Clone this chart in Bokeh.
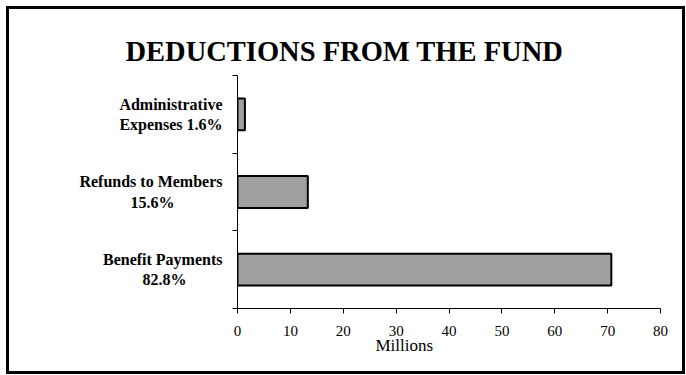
import numpy as np
from bokeh.plotting import figure
from bokeh.models import Range1d, FixedTicker, Title
from bokeh.layouts import column
from bokeh.embed import file_html
from bokeh.resources import INLINE

# ---- data ----
categories = ["Benefit Payments\n82.8%", "Refunds to Members\n15.6%", "Administrative\nExpenses 1.6%"]
values = [70.7, 13.3, 1.4]
x_ticks = [0, 10, 20, 30, 40, 50, 60, 70, 80]
title_text = "DEDUCTIONS FROM THE FUND"
x_label = "Millions"

# ---- style ----
FONT = "Liberation Serif"
# trailing no-break spaces that visually centre the shorter second line under the first
second_line_pad = [9, 12, 0]

ypos = np.arange(len(categories)) + 0.5
bounds = list(range(len(categories) + 1))


def centred(label, pad):
    first, second = label.split("\n")
    return first + "\n" + second + "\u00a0" * pad


p = figure(width=673, height=362, output_backend="svg", toolbar_location=None,
           x_range=Range1d(x_ticks[0], x_ticks[-1]), y_range=Range1d(0, len(categories)),
           min_border_left=228, min_border_right=22, min_border_top=66, min_border_bottom=63)

p.hbar(y=ypos, left=0, right=values, height=0.41,
       fill_color="#a0a0a0", line_color="black", line_width=2)

p.xgrid.visible = False
p.ygrid.visible = False
p.outline_line_color = None
p.background_fill_color = "white"
p.border_fill_color = "white"

# y axis
ya = p.yaxis[0]
ya.ticker = FixedTicker(ticks=list(ypos), minor_ticks=bounds)
ya.major_label_overrides = {float(y): centred(c, n) for y, c, n in zip(ypos, categories, second_line_pad)}
ya.major_tick_out = 0
ya.major_tick_in = 0
ya.minor_tick_out = 5
ya.minor_tick_in = 0
ya.minor_tick_line_color = "black"
ya.axis_line_color = "black"
ya.major_label_standoff = 10
ya.major_label_text_font = FONT
ya.major_label_text_font_style = "bold"
ya.major_label_text_font_size = "16px"
ya.major_label_text_color = "black"

# x axis
xa = p.xaxis[0]
xa.ticker = FixedTicker(ticks=x_ticks)
xa.major_tick_out = 5
xa.major_tick_in = 0
xa.minor_tick_out = 0
xa.minor_tick_in = 0
xa.major_tick_line_color = "black"
xa.axis_line_color = "black"
xa.major_label_standoff = 12
xa.major_label_text_font = FONT
xa.major_label_text_font_size = "15px"
xa.major_label_text_color = "black"

# titles
p.title.text = title_text
p.title.align = "left"
p.title.offset = -112
p.title.standoff = 17
p.title.text_font = FONT
p.title.text_font_size = "28.5px"
p.title.text_font_style = "bold"
p.title.text_color = "black"

p.add_layout(Title(text=x_label, align="left", offset=138, text_font=FONT,
                   text_font_size="17px", text_font_style="normal",
                   text_color="black", standoff=-10), "below")

layout = column(p, styles={"border": "3px solid black", "margin-left": "6px", "margin-top": "6px"})

open("out.html", "w").write(file_html(layout, INLINE))
